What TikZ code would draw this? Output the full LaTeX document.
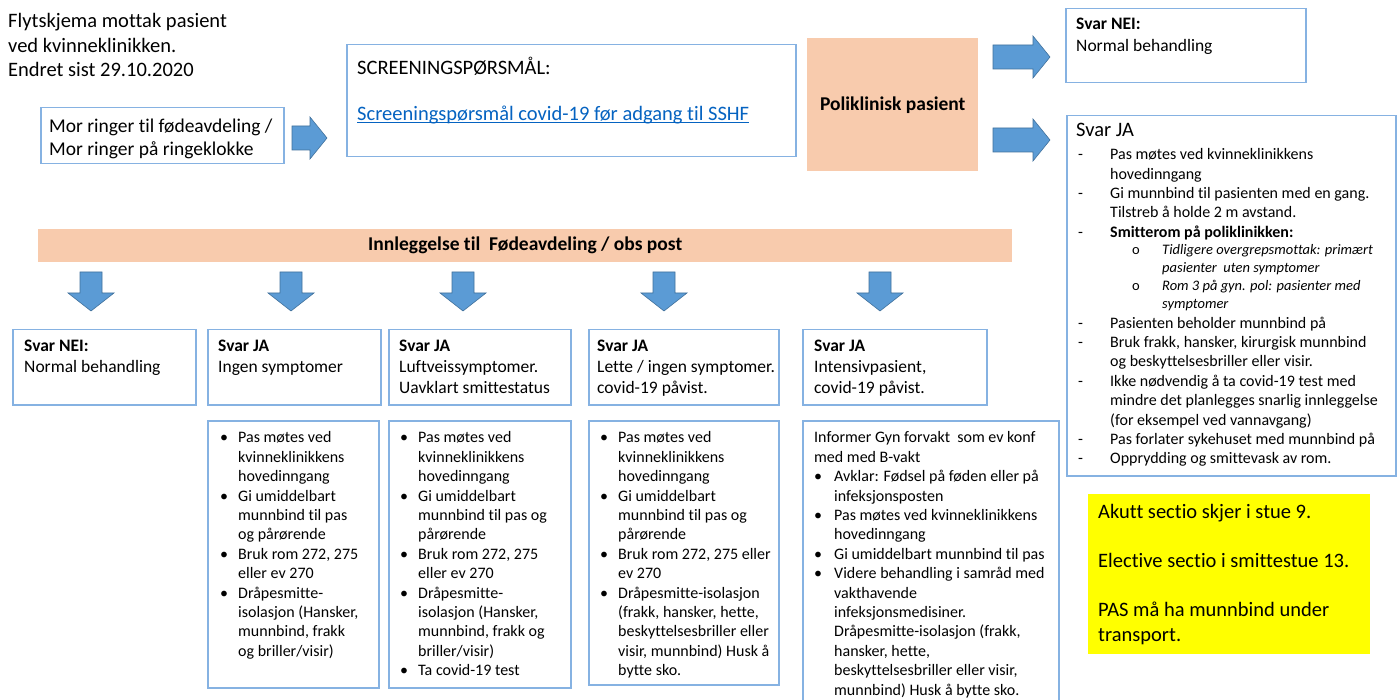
\documentclass[tikz,border=0pt]{standalone}
\usepackage{fontspec}
\setmainfont{Carlito}[Ligatures=NoCommon]
\usetikzlibrary{arrows.meta,positioning}
\definecolor{fdblue}{HTML}{5B9BD5}
\definecolor{fdedge}{HTML}{41719C}
\definecolor{fdframe}{HTML}{86B2E2}
\definecolor{fdpeach}{HTML}{F8CBAD}
\definecolor{fdlink}{HTML}{0563C1}
\definecolor{fdyellow}{HTML}{FFFF00}
\newcommand{\fsz}[2]{\fontsize{#1}{#2}\selectfont}
\newcommand{\bu}[1][18pt]{\makebox[#1][l]{\textbullet}}
\newcommand{\hg}[1][18pt]{\hspace*{#1}}
\newcommand{\dsh}{\makebox[32pt][l]{-}}
\newcommand{\dhg}{\hspace*{32pt}}
\newcommand{\lnk}[1]{\setbox0\hbox{#1}\rlap{\raisebox{-3pt}{\rule{\wd0}{1.1pt}}}\box0}

\begin{document}
\begin{tikzpicture}[x=1pt,y=-1pt,
    frame/.style 2 args={draw=fdframe,line width=1.5pt,anchor=north west,inner sep=0,
      minimum width=#1,minimum height=#2},
    txt/.style={anchor=north west,inner sep=0,align=left,yshift=-2.5pt},
    blockarr/.style={fill=fdblue,draw=fdedge,line width=0.6pt},
    pics/rarr/.style={code={
      \draw[blockarr] (0,-12) -- (#1-17,-12) -- (#1-17,-21) -- (#1,0)
        -- (#1-17,21) -- (#1-17,12) -- (0,12) -- cycle;}},
    pics/darr/.style={code={
      \draw[blockarr] (-11,0) -- (11,0) -- (11,21) -- (23,21) -- (0,39)
        -- (-23,21) -- (-11,21) -- cycle;}}]
  \useasboundingbox[fill=white] (0,0) rectangle (1400,700);

  % top row
  \node[txt,font=\fsz{20.5}{24.5}] (title) at (8,11)
    {Flytskjema mottak pasient\\ved kvinneklinikken.\\Endret sist 29.10.2020};
  \node[frame={243pt}{56pt}] (mor) at (40,107) {};
  \node[txt,font=\fsz{19.5}{23}] (morT) at (49,116)
    {Mor ringer til fødeavdeling /\\Mor ringer på ringeklokke};
  \pic at (292,138) {rarr=35};
  \node[frame={449pt}{112pt}] (scr) at (346,44) {};
  \node[txt,font=\fsz{20.5}{23}] (scrT) at (357,54) {SCREENINGSPØRSMÅL:};
  \node[txt,font=\fsz{20.5}{23},text=fdlink] (scrL) at (357,103)
    {\lnk{Screeningspørsmål covid-19 før adgang til SSHF}};
  \node[fill=fdpeach,anchor=north west,minimum width=171pt,minimum height=133pt,
    font=\fsz{19.5}{23}\bfseries] (polik) at (807,38) {\raisebox{-1pt}{Poliklinisk pasient}};
  \pic at (993,57) {rarr=57};
  \pic at (993,140) {rarr=57};

  % right column
  \node[frame={240pt}{74pt}] (pnei) at (1065,8) {};
  \node[txt,font=\fsz{17.5}{22}] (pneiT) at (1076,15)
    {\textbf{Svar NEI:}\\Normal behandling};
  \node[frame={329pt}{360pt}] (pja) at (1066,115) {};
  \node[txt,font=\fsz{20.5}{24}] (pjaH) at (1076,121) {Svar JA};
  \node[txt,font=\fsz{16}{19.3}] (pjaA) at (1078,146)
    {\dsh Pas møtes ved kvinneklinikkens\\\dhg hovedinngang\\
     \dsh Gi munnbind til pasienten med en gang.\\\dhg Tilstreb å holde 2 m avstand.\\
     \dsh\textbf{Smitterom på poliklinikken:}};
  \node[txt,font=\fsz{14.5}{18}\itshape] (pjaS) at (1132,242)
    {\makebox[30pt][l]{\upshape o}Tidligere overgrepsmottak: primært\\\hspace*{30pt}pasienter\ \ uten symptomer\\
     \makebox[30pt][l]{\upshape o}Rom 3 på gyn. pol: pasienter med\\\hspace*{30pt}symptomer};
  \node[txt,font=\fsz{16}{19.4}] (pjaB) at (1078,314)
    {\dsh Pasienten beholder munnbind på\\
     \dsh Bruk frakk, hansker, kirurgisk munnbind\\\dhg og beskyttelsesbriller eller visir.\\
     \dsh Ikke nødvendig å ta covid-19 test med\\\dhg mindre det planlegges snarlig innleggelse\\\dhg (for eksempel ved vannavgang)\\
     \dsh Pas forlater sykehuset med munnbind på\\
     \dsh Opprydding og smittevask av rom.};
  \node[fill=fdyellow,anchor=north west,minimum width=282pt,minimum height=160pt] (note) at (1088,494) {};
  \node[txt,font=\fsz{20.5}{24.5}] (noteT) at (1098,502)
    {Akutt sectio skjer i stue 9.\\[24.5pt]Elective sectio i smittestue 13.\\[24.5pt]PAS må ha munnbind under\\transport.};

  % admission bar and arrows
  \node[fill=fdpeach,anchor=north west,minimum width=974pt,minimum height=33pt,
    font=\fsz{19.5}{23}\bfseries] (innl) at (38,229) {\raisebox{-1.5pt}{Innleggelse til\ \ Fødeavdeling / obs post}};
  \foreach \x in {91,291,463,664,880}
    \pic at (\x,272) {darr};

  % answer boxes
  \node[frame={183pt}{75pt}] (nei) at (12,329) {};
  \node[txt,font=\fsz{17.5}{21}] (neiT) at (24,337) {\textbf{Svar NEI:}\\Normal behandling};
  \node[frame={173pt}{75pt}] (ing) at (207,329) {};
  \node[txt,font=\fsz{17.5}{21}] (ingT) at (218,337) {\textbf{Svar JA}\\Ingen symptomer};
  \node[frame={182pt}{75pt}] (luft) at (388,329) {};
  \node[txt,font=\fsz{17.5}{21}] (luftT) at (399,337) {\textbf{Svar JA}\\Luftveissymptomer.\\Uavklart smittestatus};
  \node[frame={190pt}{75pt}] (lett) at (588,329) {};
  \node[txt,font=\fsz{17.5}{21}] (lettT) at (597,337) {\textbf{Svar JA}\\Lette / ingen symptomer.\\covid-19 påvist.};
  \node[frame={184pt}{75pt}] (int) at (802,329) {};
  \node[txt,font=\fsz{17.5}{21}] (intT) at (814,337) {\textbf{Svar JA}\\Intensivpasient,\\covid-19 påvist.};

  % detail boxes
  \node[frame={171pt}{267pt}] (ingD) at (207,420) {};
  \node[txt,font=\fsz{16}{19.4}] (ingDT) at (220,429)
    {\bu Pas møtes ved\\\hg kvinneklinikkens\\\hg hovedinngang\\
     \bu Gi umiddelbart\\\hg munnbind til pas\\\hg og pårørende\\
     \bu Bruk rom 272, 275\\\hg eller ev 270\\
     \bu Dråpesmitte-\\\hg isolasjon (Hansker,\\\hg munnbind, frakk\\\hg og briller/visir)};
  \node[frame={182pt}{267pt}] (luftD) at (388,420) {};
  \node[txt,font=\fsz{16}{19.4}] (luftDT) at (400,429)
    {\bu Pas møtes ved\\\hg kvinneklinikkens\\\hg hovedinngang\\
     \bu Gi umiddelbart\\\hg munnbind til pas og\\\hg pårørende\\
     \bu Bruk rom 272, 275\\\hg eller ev 270\\
     \bu Dråpesmitte-\\\hg isolasjon (Hansker,\\\hg munnbind, frakk og\\\hg briller/visir)\\
     \bu Ta covid-19 test};
  \node[frame={190pt}{264pt}] (lettD) at (588,420) {};
  \node[txt,font=\fsz{16}{19.4}] (lettDT) at (600,429)
    {\bu Pas møtes ved\\\hg kvinneklinikkens\\\hg hovedinngang\\
     \bu Gi umiddelbart\\\hg munnbind til pas og\\\hg pårørende\\
     \bu Bruk rom 272, 275 eller\\\hg ev 270\\
     \bu Dråpesmitte-isolasjon\\\hg (frakk, hansker, hette,\\\hg beskyttelsesbriller eller\\\hg visir, munnbind) Husk å\\\hg bytte sko.};
  \node[frame={256pt}{285pt}] (intD) at (802,420) {};
  \node[txt,font=\fsz{16}{19.4}] (intDT) at (814,429)
    {Informer Gyn forvakt\ \ som ev konf\\med med B-vakt\\
     \bu[20pt]Avklar: Fødsel på føden eller på\\\hg[20pt]infeksjonsposten\\
     \bu[20pt]Pas møtes ved kvinneklinikkens\\\hg[20pt]hovedinngang\\
     \bu[20pt]Gi umiddelbart munnbind til pas\\
     \bu[20pt]Videre behandling i samråd med\\\hg[20pt]vakthavende\\\hg[20pt]infeksjonsmedisiner.\\
     \hg[20pt]Dråpesmitte-isolasjon (frakk,\\\hg[20pt]hansker, hette,\\\hg[20pt]beskyttelsesbriller eller visir,\\\hg[20pt]munnbind) Husk å bytte sko.};
\end{tikzpicture}
\end{document}
